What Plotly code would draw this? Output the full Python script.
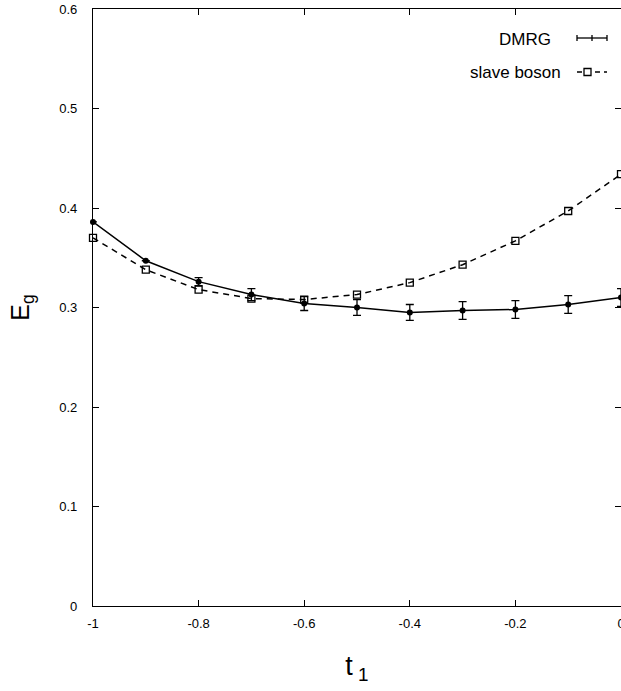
import plotly.graph_objects as go

# data
t1 = [-1.0, -0.9, -0.8, -0.7, -0.6, -0.5, -0.4, -0.3, -0.2, -0.1, 0.0]
dmrg = [0.386, 0.347, 0.326, 0.313, 0.304, 0.300, 0.295, 0.297, 0.298, 0.303, 0.310]
dmrg_err = [0.0, 0.0, 0.004, 0.006, 0.007, 0.008, 0.008, 0.009, 0.009, 0.009, 0.009]
slave_boson = [0.370, 0.338, 0.318, 0.309, 0.308, 0.313, 0.325, 0.343, 0.367, 0.397, 0.434]

xticks = [-1, -0.8, -0.6, -0.4, -0.2, 0]
xticktext = ["-1", "-0.8", "-0.6", "-0.4", "-0.2", "0"]
yticks = [0, 0.1, 0.2, 0.3, 0.4, 0.5, 0.6]
yticktext = ["0", "0.1", "0.2", "0.3", "0.4", "0.5", "0.6"]

W, H = 621, 691
ML, MR, MT, MB = 93, 0, 9, 85
PW, PH = W - ML - MR, H - MT - MB


def px(x):
    return (x - ML) / PW


def py(y):
    return (H - MB - y) / PH


fig = go.Figure()

fig.add_trace(go.Scatter(
    x=t1, y=dmrg, mode="lines+markers", name="DMRG",
    line=dict(color="black", width=1.5),
    marker=dict(symbol="circle", size=6, color="black"),
    error_y=dict(type="data", array=dmrg_err, color="black", thickness=1.3, width=4),
    cliponaxis=False,
))

fig.add_trace(go.Scatter(
    x=t1, y=slave_boson, mode="lines+markers", name="slave boson",
    line=dict(color="black", width=1.5, dash="6px,5px"),
    marker=dict(symbol="square-open", size=7, color="black", line=dict(width=1.3)),
    cliponaxis=False,
))

font = "Liberation Sans, Arial, Helvetica, sans-serif"

# legend drawn by hand (text on the left, sample on the right)
annotations = [
    dict(text="DMRG", x=px(553), y=py(39), xref="paper", yref="paper",
         xanchor="right", yanchor="middle", showarrow=False,
         font=dict(family=font, size=17, color="black")),
    dict(text="slave boson", x=px(563), y=py(73), xref="paper", yref="paper",
         xanchor="right", yanchor="middle", showarrow=False,
         font=dict(family=font, size=17, color="black")),
]

ln = dict(color="black", width=1.3)
shapes = [
    dict(type="line", xref="paper", yref="paper", x0=px(577), x1=px(607), y0=py(38), y1=py(38), line=ln),
    dict(type="line", xref="paper", yref="paper", x0=px(577), x1=px(577), y0=py(35), y1=py(41), line=ln),
    dict(type="line", xref="paper", yref="paper", x0=px(607), x1=px(607), y0=py(35), y1=py(41), line=ln),
    dict(type="line", xref="paper", yref="paper", x0=px(592), x1=px(592), y0=py(35), y1=py(41), line=ln),
    dict(type="line", xref="paper", yref="paper", x0=px(577), x1=px(607), y0=py(72), y1=py(72),
         line=dict(color="black", width=1.3, dash="5px,4px")),
    dict(type="rect", xref="paper", yref="paper", x0=px(584), x1=px(591), y0=py(75.5), y1=py(68.5),
         line=ln, fillcolor="white"),
]

axis_common = dict(
    showgrid=False, zeroline=False, showline=True, linecolor="black", linewidth=1.2,
    mirror="ticks", ticks="inside", ticklen=6, tickcolor="black", tickwidth=1,
    tickfont=dict(family=font, size=13, color="black"),
    ticklabeloverflow="allow", automargin=False,
)

fig.update_layout(
    width=W, height=H,
    margin=dict(l=ML, r=MR, t=MT, b=MB),
    paper_bgcolor="white", plot_bgcolor="white",
    showlegend=False,
    annotations=annotations,
    shapes=shapes,
    xaxis=dict(
        range=[-1, 0], tickvals=xticks, ticktext=xticktext,
        title=dict(text="t<sub> 1</sub>", font=dict(family=font, size=27, color="black"), standoff=26),
        ticklabelstandoff=5,
        **axis_common,
    ),
    yaxis=dict(
        range=[0, 0.6], tickvals=yticks, ticktext=yticktext,
        title=dict(text="E<sub>g</sub>", font=dict(family=font, size=25, color="black"), standoff=22),
        ticklabelstandoff=12,
        **axis_common,
    ),
)

fig.write_html(
    "out.html",
    config={"displayModeBar": False},
    post_script="document.body.style.margin='0';document.body.style.overflow='hidden';",
)
